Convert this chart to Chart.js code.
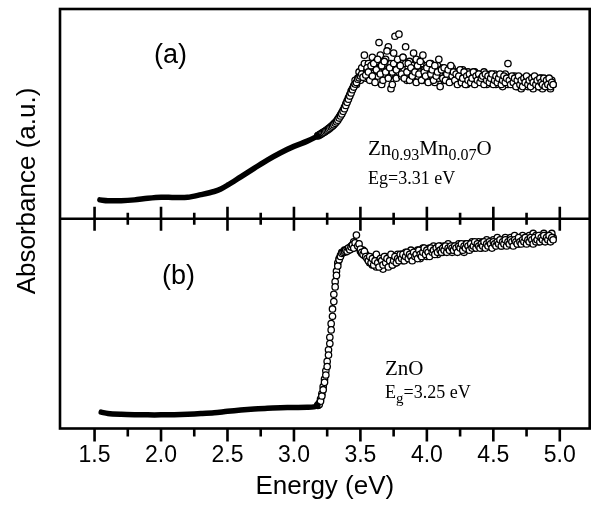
<!DOCTYPE html>
<html>
<head>
<meta charset="utf-8">
<script src="https://cdn.jsdelivr.net/npm/chart.js@4.4.1/dist/chart.umd.min.js"></script>
<style>
  html, body { margin: 0; padding: 0; background: #fff; }
  canvas { display: block; }
</style>
</head>
<body>
<canvas id="myChart" width="595" height="523"></canvas>
<script>
// smooth low-energy part of each spectrum (drawn as a thick line)
const ENERGY_LO_A = [1.54, 1.6, 1.7, 1.8, 1.9, 2.0, 2.1, 2.2, 2.3, 2.4, 2.45, 2.5, 2.6, 2.7, 2.8, 2.9, 3.0, 3.1, 3.18];
const ABS_LO_A = [0.09, 0.086, 0.086, 0.09, 0.098, 0.103, 0.101, 0.102, 0.115, 0.13, 0.142, 0.16, 0.2, 0.24, 0.28, 0.315, 0.345, 0.37, 0.395];

const ENERGY_LO_B = [1.55, 1.6, 1.7, 1.8, 1.9, 2.0, 2.1, 2.2, 2.3, 2.4, 2.5, 2.6, 2.7, 2.8, 2.9, 3.0, 3.1, 3.15, 3.18];
const ABS_LO_B = [0.078, 0.072, 0.068, 0.066, 0.065, 0.065, 0.066, 0.068, 0.071, 0.075, 0.082, 0.088, 0.093, 0.097, 0.099, 0.1, 0.101, 0.103, 0.11];

// edge + high-energy part, open circles (two scans on the same energies)
const ENERGY_HI = [
  3.18, 3.19, 3.20, 3.21, 3.22, 3.23, 3.24, 3.25, 3.26, 3.27,
  3.28, 3.29, 3.30, 3.31, 3.32, 3.33, 3.34, 3.35, 3.36, 3.37,
  3.38, 3.39, 3.40, 3.41, 3.42, 3.43, 3.44, 3.45, 3.46, 3.47,
  3.48, 3.49, 3.50, 3.51, 3.52, 3.53, 3.54, 3.55, 3.56, 3.57,
  3.58, 3.59, 3.60, 3.61, 3.62, 3.63, 3.64, 3.65, 3.66, 3.67,
  3.68, 3.69, 3.70, 3.71, 3.72, 3.73, 3.74, 3.75, 3.76, 3.77,
  3.78, 3.79, 3.80, 3.81, 3.82, 3.83, 3.84, 3.85, 3.86, 3.87,
  3.88, 3.89, 3.90, 3.91, 3.92, 3.93, 3.94, 3.95, 3.96, 3.97,
  3.98, 3.99, 4.00, 4.01, 4.02, 4.03, 4.04, 4.05, 4.06, 4.07,
  4.08, 4.09, 4.10, 4.11, 4.12, 4.13, 4.14, 4.15, 4.16, 4.17,
  4.18, 4.19, 4.20, 4.21, 4.22, 4.23, 4.24, 4.25, 4.26, 4.27,
  4.28, 4.29, 4.30, 4.31, 4.32, 4.33, 4.34, 4.35, 4.36, 4.37,
  4.38, 4.39, 4.40, 4.41, 4.42, 4.43, 4.44, 4.45, 4.46, 4.47,
  4.48, 4.49, 4.50, 4.51, 4.52, 4.53, 4.54, 4.55, 4.56, 4.57,
  4.58, 4.59, 4.60, 4.61, 4.62, 4.63, 4.64, 4.65, 4.66, 4.67,
  4.68, 4.69, 4.70, 4.71, 4.72, 4.73, 4.74, 4.75, 4.76, 4.77,
  4.78, 4.79, 4.80, 4.81, 4.82, 4.83, 4.84, 4.85, 4.86, 4.87,
  4.88, 4.89, 4.90, 4.91, 4.92, 4.93, 4.94, 4.95
];

// (a) Zn0.93Mn0.07O
const ABS_HI_A = [
  0.395, 0.398, 0.402, 0.406, 0.41, 0.414, 0.418, 0.422, 0.427, 0.432,
  0.437, 0.442, 0.448, 0.455, 0.462, 0.47, 0.48, 0.49, 0.50, 0.512,
  0.525, 0.54, 0.555, 0.57, 0.585, 0.60, 0.615, 0.628, 0.642, 0.65,
  0.665, 0.672, 0.68, 0.69, 0.675, 0.78, 0.685, 0.72, 0.70, 0.66,
  0.73, 0.68, 0.74, 0.65, 0.71, 0.76, 0.84, 0.69, 0.73, 0.66,
  0.75, 0.70, 0.80, 0.67, 0.72, 0.62, 0.64, 0.74, 0.87, 0.71,
  0.76, 0.88, 0.73, 0.69, 0.77, 0.67, 0.82, 0.70, 0.74, 0.66,
  0.72, 0.68, 0.79, 0.70, 0.65, 0.73, 0.69, 0.75, 0.66, 0.78,
  0.70, 0.68, 0.72, 0.65, 0.74, 0.69, 0.71, 0.66, 0.73, 0.68,
  0.70, 0.76, 0.63, 0.71, 0.67, 0.72, 0.66, 0.69, 0.71, 0.65,
  0.73, 0.68, 0.70, 0.66, 0.69, 0.64, 0.68, 0.71, 0.65, 0.67,
  0.70, 0.64, 0.68, 0.66, 0.69, 0.65, 0.67, 0.70, 0.64, 0.68,
  0.66, 0.69, 0.65, 0.67, 0.68, 0.64, 0.69, 0.66, 0.68, 0.65,
  0.67, 0.69, 0.64, 0.66, 0.68, 0.65, 0.67, 0.69, 0.64, 0.66,
  0.68, 0.65, 0.67, 0.74, 0.66, 0.64, 0.68, 0.65, 0.67, 0.63,
  0.66, 0.68, 0.64, 0.66, 0.63, 0.67, 0.65, 0.68, 0.64, 0.66,
  0.63, 0.67, 0.65, 0.68, 0.64, 0.66, 0.63, 0.67, 0.65, 0.64,
  0.67, 0.63, 0.66, 0.64, 0.67, 0.63, 0.65, 0.64
];
const ABS_HI_A2 = [
  0.397, 0.40, 0.404, 0.408, 0.412, 0.416, 0.42, 0.425, 0.43, 0.435,
  0.44, 0.445, 0.452, 0.458, 0.466, 0.475, 0.485, 0.495, 0.506, 0.518,
  0.532, 0.548, 0.562, 0.578, 0.592, 0.608, 0.62, 0.635, 0.66, 0.64,
  0.67, 0.70, 0.66, 0.72, 0.69, 0.74, 0.67, 0.71, 0.74, 0.69,
  0.71, 0.77, 0.66, 0.72, 0.75, 0.68, 0.70, 0.78, 0.64, 0.73,
  0.69, 0.76, 0.71, 0.82, 0.68, 0.74, 0.70, 0.79, 0.72, 0.67,
  0.75, 0.70, 0.73, 0.68, 0.77, 0.71, 0.74, 0.66, 0.72, 0.75,
  0.69, 0.73, 0.67, 0.71, 0.76, 0.68, 0.72, 0.70, 0.74, 0.66,
  0.71, 0.69, 0.73, 0.67, 0.70, 0.74, 0.68, 0.72, 0.65, 0.70,
  0.73, 0.67, 0.71, 0.69, 0.72, 0.66, 0.70, 0.68, 0.71, 0.67,
  0.69, 0.72, 0.66, 0.69, 0.66, 0.70, 0.67, 0.65, 0.69, 0.71,
  0.66, 0.68, 0.64, 0.70, 0.67, 0.69, 0.66, 0.68, 0.70, 0.65,
  0.67, 0.69, 0.66, 0.68, 0.65, 0.70, 0.67, 0.64, 0.68, 0.66,
  0.69, 0.65, 0.67, 0.69, 0.64, 0.66, 0.68, 0.65, 0.67, 0.63,
  0.66, 0.69, 0.65, 0.64, 0.67, 0.65, 0.66, 0.64, 0.68, 0.65,
  0.63, 0.67, 0.65, 0.62, 0.66, 0.64, 0.67, 0.65, 0.63, 0.66,
  0.64, 0.67, 0.62, 0.65, 0.64, 0.66, 0.63, 0.65, 0.67, 0.62,
  0.65, 0.64, 0.66, 0.63, 0.65, 0.62, 0.66, 0.64
];

// (b) ZnO
const ABS_HI_B = [
  0.11, 0.115, 0.13, 0.155, 0.185, 0.22, 0.255, 0.295, 0.35, 0.405,
  0.47, 0.535, 0.605, 0.675, 0.73, 0.775, 0.805, 0.82, 0.835, 0.84,
  0.845, 0.85, 0.845, 0.86, 0.852, 0.865, 0.875, 0.86, 0.885, 0.922,
  0.87, 0.88, 0.855, 0.84, 0.83, 0.845, 0.82, 0.81, 0.80, 0.82,
  0.79, 0.81, 0.78, 0.80, 0.83, 0.79, 0.77, 0.81, 0.80, 0.78,
  0.82, 0.79, 0.81, 0.77, 0.80, 0.83, 0.78, 0.80, 0.82, 0.79,
  0.81, 0.80, 0.83, 0.81, 0.83, 0.80, 0.82, 0.84, 0.81, 0.83,
  0.82, 0.80, 0.84, 0.82, 0.83, 0.81, 0.85, 0.83, 0.82, 0.84,
  0.86, 0.83, 0.85, 0.84, 0.82, 0.86, 0.84, 0.85, 0.83, 0.86,
  0.84, 0.87, 0.85, 0.84, 0.86, 0.85, 0.87, 0.84, 0.86, 0.85,
  0.87, 0.86, 0.85, 0.87, 0.86, 0.84, 0.87, 0.86, 0.88, 0.85,
  0.87, 0.86, 0.88, 0.87, 0.85, 0.88, 0.86, 0.87, 0.89, 0.86,
  0.88, 0.87, 0.86, 0.88, 0.87, 0.89, 0.86, 0.88, 0.87, 0.89,
  0.88, 0.86, 0.89, 0.88, 0.87, 0.89, 0.88, 0.90, 0.87, 0.89,
  0.88, 0.90, 0.87, 0.89, 0.88, 0.90, 0.89, 0.87, 0.90, 0.89,
  0.88, 0.91, 0.89, 0.88, 0.90, 0.89, 0.91, 0.88, 0.90, 0.89,
  0.91, 0.90, 0.88, 0.91, 0.89, 0.90, 0.92, 0.89, 0.91, 0.90,
  0.92, 0.89, 0.91, 0.90, 0.92, 0.89, 0.91, 0.90
];
const ABS_HI_B2 = [
  0.112, 0.12, 0.14, 0.165, 0.2, 0.235, 0.275, 0.32, 0.375, 0.435,
  0.5, 0.57, 0.64, 0.70, 0.75, 0.79, 0.81, 0.825, 0.84, 0.838,
  0.85, 0.842, 0.855, 0.85, 0.862, 0.87, 0.858, 0.89, 0.875, 0.865,
  0.88, 0.86, 0.845, 0.835, 0.85, 0.825, 0.83, 0.815, 0.82, 0.79,
  0.81, 0.78, 0.80, 0.82, 0.77, 0.79, 0.81, 0.78, 0.80, 0.76,
  0.79, 0.82, 0.78, 0.80, 0.79, 0.81, 0.78, 0.82, 0.80, 0.79,
  0.83, 0.80, 0.82, 0.83, 0.80, 0.82, 0.84, 0.81, 0.83, 0.82,
  0.85, 0.81, 0.83, 0.84, 0.82, 0.85, 0.83, 0.81, 0.84, 0.86,
  0.83, 0.85, 0.82, 0.84, 0.86, 0.83, 0.85, 0.87, 0.84, 0.86,
  0.83, 0.85, 0.87, 0.86, 0.84, 0.87, 0.85, 0.86, 0.88, 0.85,
  0.86, 0.84, 0.87, 0.85, 0.87, 0.86, 0.88, 0.85, 0.87, 0.86,
  0.84, 0.88, 0.86, 0.87, 0.88, 0.86, 0.89, 0.87, 0.86, 0.88,
  0.87, 0.89, 0.88, 0.86, 0.89, 0.88, 0.87, 0.90, 0.88, 0.87,
  0.89, 0.88, 0.90, 0.87, 0.89, 0.91, 0.88, 0.89, 0.87, 0.90,
  0.89, 0.91, 0.88, 0.90, 0.89, 0.91, 0.88, 0.90, 0.92, 0.89,
  0.90, 0.88, 0.91, 0.90, 0.92, 0.89, 0.91, 0.90, 0.89, 0.92,
  0.90, 0.91, 0.93, 0.90, 0.92, 0.91, 0.89, 0.92, 0.91, 0.90,
  0.93, 0.91, 0.92, 0.90, 0.92, 0.91, 0.93, 0.91
];

const X_MAJOR_TICKS = [1.5, 2.0, 2.5, 3.0, 3.5, 4.0, 4.5, 5.0];
const X_MINOR_TICKS = [1.75, 2.25, 2.75, 3.25, 3.75, 4.25, 4.75];

function toPoints(xs, ys) {
  return xs.map((x, i) => ({ x: x, y: ys[i] }));
}

const lineStyle = {
  showLine: true,
  borderColor: "#000",
  borderWidth: 5.5,
  borderCapStyle: "round",
  borderJoinStyle: "round",
  pointRadius: 0,
  tension: 0.3,
};

const circleStyle = {
  showLine: false,
  pointRadius: 3.2,
  pointBorderWidth: 1.3,
  pointBorderColor: "#000",
  pointBackgroundColor: "#fff",
};

// frame, divider and the hand-made tick marks
const framePlugin = {
  id: "frame",
  afterDatasetsDraw(chart) {
    const { ctx, chartArea } = chart;
    const xs = chart.scales.x;
    const mid = chart.scales.ya.bottom;
    ctx.save();
    ctx.strokeStyle = "#000";
    ctx.lineWidth = 2.6;
    ctx.strokeRect(chartArea.left, chartArea.top, chartArea.right - chartArea.left, chartArea.bottom - chartArea.top);
    ctx.beginPath();
    ctx.moveTo(chartArea.left, mid);
    ctx.lineTo(chartArea.right, mid);
    ctx.stroke();
    ctx.beginPath();
    X_MAJOR_TICKS.forEach((v) => {
      const px = xs.getPixelForValue(v);
      ctx.moveTo(px, mid - 12);
      ctx.lineTo(px, mid + 12);
      ctx.moveTo(px, chartArea.bottom);
      ctx.lineTo(px, chartArea.bottom + 13);
    });
    X_MINOR_TICKS.forEach((v) => {
      const px = xs.getPixelForValue(v);
      ctx.moveTo(px, mid - 6);
      ctx.lineTo(px, mid + 6);
      ctx.moveTo(px, chartArea.bottom);
      ctx.lineTo(px, chartArea.bottom + 8);
    });
    ctx.stroke();
    ctx.restore();
  },
};

// panel labels, sample names and the y title
const textPlugin = {
  id: "texts",
  afterDraw(chart) {
    const ctx = chart.ctx;
    ctx.save();
    ctx.fillStyle = "#000";
    ctx.textBaseline = "alphabetic";
    ctx.textAlign = "left";

    ctx.font = "27px 'Liberation Sans', Arial, sans-serif";
    ctx.fillText("(a)", 154, 63);
    ctx.fillText("(b)", 162, 284);

    const big = "21px 'Liberation Serif', 'Times New Roman', serif";
    const sub = "16px 'Liberation Serif', 'Times New Roman', serif";
    const mid = "18px 'Liberation Serif', 'Times New Roman', serif";
    let x = 368;
    const parts = [["Zn", big, 0], ["0.93", sub, 5], ["Mn", big, 0], ["0.07", sub, 5], ["O", big, 0]];
    parts.forEach(([t, f, dy]) => {
      ctx.font = f;
      ctx.fillText(t, x, 155 + dy);
      x += ctx.measureText(t).width;
    });
    ctx.font = mid;
    ctx.fillText("Eg=3.31 eV", 368, 184);

    ctx.font = big;
    ctx.fillText("ZnO", 385, 375);
    ctx.font = mid;
    ctx.fillText("E", 385, 398);
    let x2 = 385 + ctx.measureText("E").width;
    ctx.font = "15px 'Liberation Serif', 'Times New Roman', serif";
    ctx.fillText("g", x2, 403);
    x2 += ctx.measureText("g").width;
    ctx.font = mid;
    ctx.fillText("=3.25 eV", x2, 398);

    ctx.translate(28, 191);
    ctx.rotate(-Math.PI / 2);
    ctx.textAlign = "center";
    ctx.textBaseline = "middle";
    ctx.font = "26px 'Liberation Sans', Arial, sans-serif";
    ctx.fillText("Absorbance (a.u.)", 0, 0);
    ctx.restore();
  },
};

function initChart(target) {
  const data = {
    datasets: [
      { ...lineStyle, data: toPoints(ENERGY_LO_A, ABS_LO_A), yAxisID: "ya" },
      { ...circleStyle, data: toPoints(ENERGY_HI, ABS_HI_A), yAxisID: "ya" },
      { ...circleStyle, data: toPoints(ENERGY_HI, ABS_HI_A2), yAxisID: "ya" },
      { ...lineStyle, data: toPoints(ENERGY_LO_B, ABS_LO_B), yAxisID: "yb" },
      { ...circleStyle, data: toPoints(ENERGY_HI, ABS_HI_B), yAxisID: "yb" },
      { ...circleStyle, data: toPoints(ENERGY_HI, ABS_HI_B2), yAxisID: "yb" },
    ],
  };

  const config = {
    type: "scatter",
    data: data,
    options: {
      responsive: false,
      animation: false,
      devicePixelRatio: 1,
      layout: { padding: { left: 60, right: 4, top: 9, bottom: 0 } },
      plugins: { legend: { display: false }, tooltip: { enabled: false } },
      scales: {
        x: {
          type: "linear",
          min: 1.24,
          max: 5.225,
          afterBuildTicks: (scale) => {
            scale.ticks = X_MAJOR_TICKS.map((v) => ({ value: v }));
          },
          afterFit: (scale) => {
            scale.height = 94.5;
          },
          grid: { display: false, drawTicks: false },
          border: { display: false },
          ticks: {
            padding: 13,
            color: "#000",
            maxRotation: 0,
            font: { family: "'Liberation Sans', Arial, sans-serif", size: 23 },
            callback: (v) => Number(v).toFixed(1),
          },
          title: {
            display: true,
            text: "Energy (eV)",
            color: "#000",
            font: { family: "'Liberation Sans', Arial, sans-serif", size: 26 },
            padding: { top: 4, bottom: 21 },
          },
        },
        yb: {
          axis: "y",
          type: "linear",
          position: "left",
          stack: "panels",
          stackWeight: 1,
          min: 0,
          max: 1,
          display: false,
        },
        ya: {
          axis: "y",
          type: "linear",
          position: "left",
          stack: "panels",
          stackWeight: 1,
          min: 0,
          max: 1,
          display: false,
        },
      },
    },
    plugins: [framePlugin, textPlugin],
  };

  return new Chart(target, config);
}

document.addEventListener("DOMContentLoaded", () => {
  initChart(document.querySelector("#myChart"));
});
</script>
</body>
</html>
